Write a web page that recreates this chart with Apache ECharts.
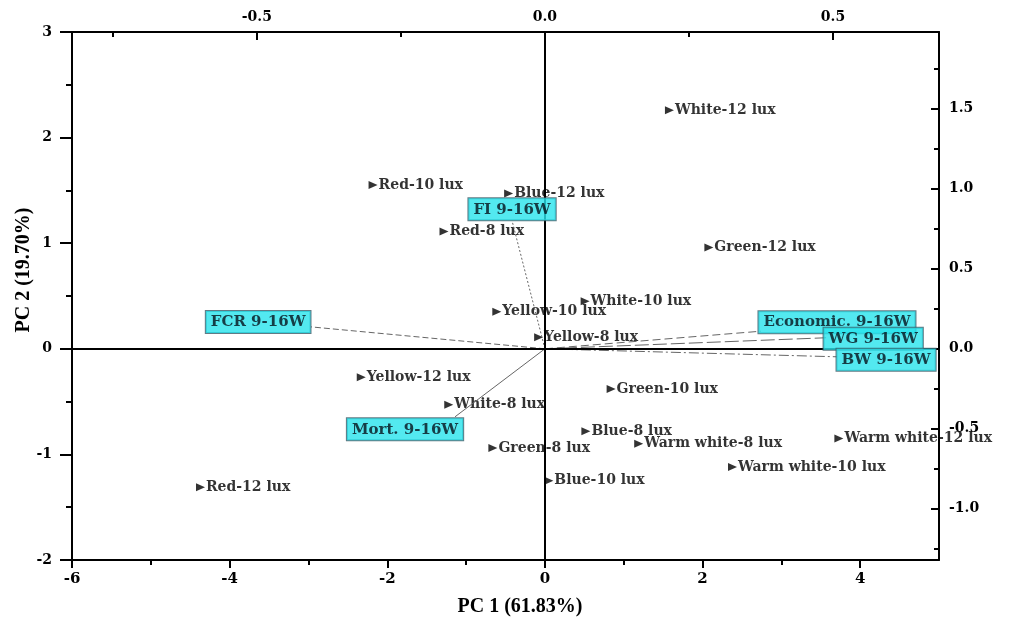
<!DOCTYPE html>
<html>
<head>
<meta charset="utf-8">
<script src="https://cdn.jsdelivr.net/npm/echarts@6/dist/echarts.min.js"></script>
<style>
  html, body { margin: 0; padding: 0; background: #fff; }
  #chart { width: 1009px; height: 622px; }
</style>
</head>
<body>
<div id="chart"></div>
<script>
// PCA scores (treatments)
const scoreNames = [
  'White-12 lux', 'Red-10 lux', 'Blue-12 lux', 'Red-8 lux', 'Green-12 lux',
  'White-10 lux', 'Yellow-10 lux', 'Yellow-8 lux', 'Yellow-12 lux', 'White-8 lux',
  'Green-8 lux', 'Blue-10 lux', 'Red-12 lux', 'Green-10 lux', 'Blue-8 lux',
  'Warm white-8 lux', 'Warm white-10 lux', 'Warm white-12 lux'
];
const scoreX = [1.58, -2.18, -0.46, -1.28, 2.08, 0.51, -0.61, -0.08, -2.33, -1.22,
                -0.66, 0.05, -4.37, 0.84, 0.52, 1.19, 2.38, 3.73];
const scoreY = [2.26, 1.55, 1.47, 1.11, 0.96, 0.45, 0.35, 0.11, -0.27, -0.53,
                -0.94, -1.25, -1.31, -0.38, -0.78, -0.90, -1.12, -0.85];

// PCA loadings (variables), on the secondary axes
const loadingNames = ['FCR 9-16W', 'FI 9-16W', 'Mort. 9-16W', 'Economic. 9-16W', 'WG 9-16W', 'BW 9-16W'];
const loadingX = [-0.406, -0.057, -0.156, 0.375, 0.488, 0.507];
const loadingY = [0.137, 0.800, -0.425, 0.110, 0.069, -0.050];

// Axis ranges and ticks
const pc1Range = [-6, 5];
const pc2Range = [-2, 3];
const pc1Ticks = [-6, -4, -2, 0, 2, 4];
const pc1Minor = [-5, -3, -1, 1, 3];
const topScale = 0.1368;   // loading units per score unit (horizontal)
const rightScale = 0.66;   // loading units per score unit (vertical)
const topTicks = [-0.5, 0, 0.5];
const topMinor = [-0.75, -0.25, 0.25];
const rightTicks = [-1.0, -0.5, 0, 0.5, 1.0, 1.5];
const rightMinor = [-1.25, -0.75, -0.25, 0.25, 0.75, 1.25, 1.75];
const xTitle = 'PC 1 (61.83%)';
const yTitle = 'PC 2 (19.70%)';

const SERIF = 'Liberation Serif, Times New Roman, serif';
const WIDE = 'DejaVu Serif, serif';

// line dash and label box placement for each loading vector
const vectorStyle = {
  'FCR 9-16W':       { dash: [6, 3],         pos: 'left',   dist: 0,  off: [0, -5] },
  'FI 9-16W':        { dash: [2, 2],         pos: 'top',    dist: 0,  off: [0, 0] },
  'Mort. 9-16W':     { dash: 'solid',        pos: 'bottom', dist: 1,  off: [-50, 0] },
  'Economic. 9-16W': { dash: [8, 4],         pos: 'right',  dist: -3, off: [0, -9] },
  'WG 9-16W':        { dash: [14, 4],        pos: 'right',  dist: -3, off: [0, 1] },
  'BW 9-16W':        { dash: [10, 3, 2, 3],  pos: 'right',  dist: -1, off: [0, 3] }
};

const BLACK = { color: '#000', width: 2 };
const axisLineStyle = { show: true, onZero: false, lineStyle: BLACK };
const tickFont = { color: '#000', fontFamily: WIDE, fontWeight: 'bold', fontSize: 14 };

function minorAxis(pos, range, values, inside, len) {
  return {
    type: 'value', position: pos, min: range[0], max: range[1],
    axisLine: { show: false, onZero: false }, axisLabel: { show: false }, splitLine: { show: false },
    axisTick: { show: true, customValues: values, inside: inside, length: len, lineStyle: BLACK }
  };
}

const topRange = [pc1Range[0] * topScale, pc1Range[1] * topScale];
const rightRange = [pc2Range[0] * rightScale, pc2Range[1] * rightScale];

const xAxes = [
  {
    type: 'value', position: 'bottom', min: pc1Range[0], max: pc1Range[1],
    axisLine: axisLineStyle, splitLine: { show: false },
    axisTick: { show: true, customValues: pc1Ticks, length: 8, lineStyle: BLACK },
    axisLabel: Object.assign({}, tickFont, { customValues: pc1Ticks, margin: 12, fontSize: 15 })
  },
  minorAxis('bottom', pc1Range, pc1Minor, false, 5),
  {
    type: 'value', position: 'top', min: topRange[0], max: topRange[1],
    axisLine: axisLineStyle, splitLine: { show: false },
    axisTick: { show: true, inside: true, customValues: topTicks, length: 8, lineStyle: BLACK },
    axisLabel: Object.assign({}, tickFont, { customValues: topTicks, margin: 8, formatter: v => v.toFixed(1) })
  },
  minorAxis('top', topRange, topMinor, true, 5)
];

const yAxes = [
  {
    type: 'value', position: 'left', min: pc2Range[0], max: pc2Range[1], interval: 1,
    axisLine: axisLineStyle, splitLine: { show: false },
    axisTick: { show: true, length: 12, lineStyle: BLACK },
    minorTick: { show: true, splitNumber: 2, length: 6, lineStyle: BLACK },
    axisLabel: Object.assign({}, tickFont, { margin: 20 })
  },
  {
    type: 'value', position: 'right', min: rightRange[0], max: rightRange[1],
    axisLine: axisLineStyle, splitLine: { show: false },
    axisTick: { show: true, inside: true, customValues: rightTicks, length: 8, lineStyle: BLACK },
    axisLabel: Object.assign({}, tickFont, { customValues: rightTicks, margin: 10, formatter: v => v.toFixed(1) })
  },
  minorAxis('right', rightRange, rightMinor, true, 5)
];

const series = [];

// treatment scores with right-pointing markers
series.push({
  type: 'scatter', xAxisIndex: 0, yAxisIndex: 0, z: 3,
  symbol: 'triangle', symbolRotate: -90, symbolSize: [8, 9],
  itemStyle: { color: '#000' },
  data: scoreNames.map((n, i) => ({ name: n, value: [scoreX[i], scoreY[i]] })),
  label: {
    show: true, position: 'right', distance: 1, formatter: '{b}',
    color: '#000', fontFamily: WIDE, fontWeight: 'bold', fontSize: 14
  },
  markLine: {
    silent: true, symbol: 'none', label: { show: false },
    lineStyle: { color: '#000', width: 2, type: 'solid' },
    data: [{ xAxis: 0 }, { yAxis: 0 }]
  }
});

// loading vectors from the origin
loadingNames.forEach((n, i) => {
  const st = vectorStyle[n];
  series.push({
    type: 'line', xAxisIndex: 2, yAxisIndex: 1, z: 4,
    symbol: 'none', silent: true,
    lineStyle: { color: '#666', width: 1, type: st.dash },
    data: [[0, 0], [loadingX[i], loadingY[i]]]
  });
});

// loading labels in cyan boxes at the vector tips
series.push({
  type: 'scatter', xAxisIndex: 2, yAxisIndex: 1, z: 6,
  symbolSize: 1, itemStyle: { color: 'transparent' },
  data: loadingNames.map((n, i) => {
    const st = vectorStyle[n];
    return {
      name: n, value: [loadingX[i], loadingY[i]],
      label: { position: st.pos, distance: st.dist, offset: st.off }
    };
  }),
  label: {
    show: true, formatter: '{b}',
    color: '#06121c', fontFamily: WIDE, fontWeight: 'bold', fontSize: 15,
    backgroundColor: '#28e4ec', borderColor: '#3a5a66', borderWidth: 1,
    padding: [4, 5, 3, 5]
  }
});

const chart = echarts.init(document.getElementById('chart'), null, { renderer: 'canvas' });
chart.setOption({
  animation: false,
  backgroundColor: '#fff',
  grid: { left: 72, right: 70, top: 32, bottom: 62, containLabel: false },
  xAxis: xAxes,
  yAxis: yAxes,
  series: series,
  graphic: [
    {
      type: 'text', x: 520, y: 607,
      style: { text: xTitle, fill: '#000', font: 'bold 20px ' + SERIF,
               align: 'center', verticalAlign: 'middle' }
    },
    {
      type: 'text', x: 24, y: 270, rotation: Math.PI / 2,
      style: { text: yTitle, fill: '#000', font: 'bold 20px ' + SERIF,
               align: 'center', verticalAlign: 'middle' }
    }
  ]
});
</script>
</body>
</html>
